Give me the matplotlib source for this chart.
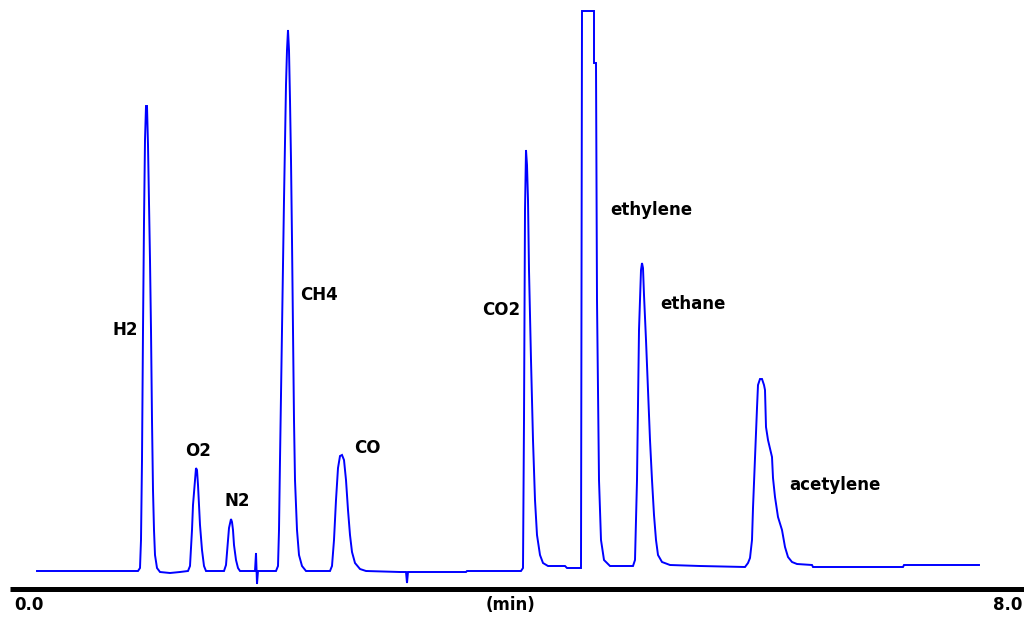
import matplotlib
matplotlib.use("Agg")
import matplotlib.pyplot as plt

# Retention time (min) and detector signal (arbitrary units)
t_h2 = [0.200, 1.008, 1.024, 1.032, 1.040, 1.048, 1.056, 1.064, 1.072, 1.080, 1.088, 1.096,
        1.104, 1.112, 1.120, 1.128, 1.136, 1.144, 1.160, 1.184, 1.264, 1.344, 1.408]
s_h2 = [0, 0, 3, 31, 111, 241, 349, 431, 465, 465, 426, 371,
        311, 241, 151, 81, 41, 16, 3, -1, -2, -1, 0]

t_o2 = [1.424, 1.440, 1.448, 1.464, 1.472, 1.480, 1.488, 1.496, 1.504, 1.520, 1.536, 1.552, 1.696]
s_o2 = [5, 41, 66, 91, 103, 101, 86, 66, 46, 21, 5, 0, 0]

t_n2 = [1.712, 1.728, 1.736, 1.752, 1.760, 1.768, 1.776, 1.792, 1.808, 1.824, 1.944,
        1.952, 1.960, 1.968]
s_n2 = [6, 31, 43, 52, 49, 41, 26, 11, 3, 0, 0, 18, -13, 0]

t_ch4 = [2.112, 2.128, 2.136, 2.144, 2.160, 2.176, 2.192, 2.200, 2.208, 2.216, 2.224, 2.232,
         2.240, 2.248, 2.256, 2.264, 2.280, 2.296, 2.320, 2.352, 2.544]
s_ch4 = [0, 5, 41, 111, 241, 371, 486, 521, 541, 521, 471, 411,
         331, 241, 151, 91, 41, 16, 5, 0, 0]

t_co = [2.560, 2.576, 2.592, 2.608, 2.624, 2.640, 2.656, 2.672, 2.688, 2.704, 2.720, 2.744,
        2.784, 2.832, 3.104, 3.152, 3.160, 3.168, 3.632, 3.640, 4.072]
s_co = [5, 31, 71, 103, 115, 116, 111, 91, 61, 36, 19, 8,
        2, 0, -1, -1, -12, -1, -1, 0, 0]

t_co2 = [4.088, 4.096, 4.104, 4.112, 4.120, 4.128, 4.136, 4.152, 4.168, 4.184, 4.200, 4.224,
         4.248, 4.288, 4.424, 4.440, 4.552]
s_co2 = [3, 151, 361, 421, 406, 371, 301, 211, 131, 71, 36, 16,
         8, 5, 5, 3, 3]

t_c2h4 = [4.560, 4.656, 4.656, 4.672, 4.680, 4.696, 4.712, 4.736, 4.784, 4.968]
s_c2h4 = [560, 560, 508, 508, 271, 91, 31, 11, 5, 5]

t_c2h6 = [4.984, 5.000, 5.016, 5.032, 5.040, 5.048, 5.056, 5.072, 5.088, 5.104, 5.120, 5.136,
          5.152, 5.168, 5.200, 5.264, 5.504, 5.864]
s_c2h6 = [11, 91, 241, 301, 308, 303, 276, 231, 181, 131, 91, 56,
          31, 16, 9, 6, 5, 4]

t_c2h2 = [5.888, 5.904, 5.920, 5.928, 5.944, 5.960, 5.968, 5.984, 6.000, 6.016, 6.024, 6.032,
          6.048, 6.080, 6.088, 6.104, 6.128, 6.160, 6.184, 6.208, 6.240, 6.280, 6.400, 6.408,
          7.128, 7.136, 7.736]
s_c2h2 = [8, 13, 31, 63, 114, 163, 186, 192, 192, 186, 181, 144,
          131, 114, 93, 74, 54, 41, 24, 14, 9, 7, 6, 4,
          4, 6, 6]

peak_names = ["H2", "O2", "N2", "CH4", "CO", "CO2", "ethylene", "ethane", "acetylene"]
label_t = [0.808, 1.384, 1.704, 2.304, 2.736, 3.760, 4.784, 5.184, 6.216]
label_s = [241, 120, 70, 276, 123, 261, 361, 267, 86]

time_ticks = ["0.0", "8.0"]
time_tick_pos = [0.016, 7.848]
x_unit = "(min)"

times = t_h2 + t_o2 + t_n2 + t_ch4 + t_co + t_co2 + t_c2h4 + t_c2h6 + t_c2h2
signal = s_h2 + s_o2 + s_n2 + s_ch4 + s_co + s_co2 + s_c2h4 + s_c2h6 + s_c2h2

fig = plt.figure(figsize=(10.24, 6.17), dpi=100)
ax = fig.add_axes([0, 0, 1, 1])
ax.set_xlim(-0.096, 8.096)
ax.set_ylim(-46, 571)
ax.axis("off")

ax.plot(times, signal, color="#0000FF", lw=1.4, solid_joinstyle="miter")

# time axis line
ax.plot([-0.016, 8.096], [-18, -18], color="black", lw=3.6, solid_capstyle="butt")

font = dict(family="DejaVu Sans", weight="bold", size=12, color="black")
for name, tx, sy in zip(peak_names, label_t, label_s):
    ax.text(tx, sy, name, ha="left", va="center", **font)

for lab, pos in zip(time_ticks, time_tick_pos):
    ax.text(pos, -34, lab, ha="left", va="center", **font)
ax.text(3.792, -34, x_unit, ha="left", va="center", **font)

fig.savefig("out.png", dpi=100)
